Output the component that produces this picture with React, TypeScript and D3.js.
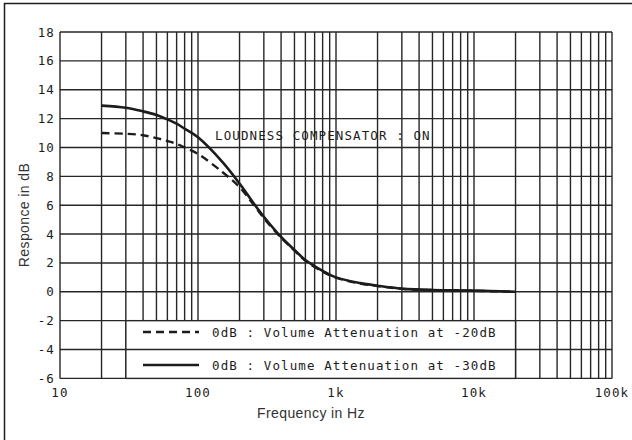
import React from 'react';
import * as d3 from 'd3';

// frequency points (Hz)
const freqs = [20, 30, 40, 50, 60, 70, 80, 100, 150, 200, 250, 300, 400, 500, 600, 800, 1000, 1500, 2000, 3000, 5000, 10000, 20000];
// response at -20dB volume attenuation (dashed)
const atten20 = [11.0, 10.95, 10.85, 10.65, 10.45, 10.25, 10.0, 9.55, 8.3, 7.25, 6.1, 5.1, 3.75, 2.85, 2.15, 1.4, 0.98, 0.57, 0.4, 0.2, 0.12, 0.07, 0.0];
// response at -30dB volume attenuation (solid)
const atten30 = [12.9, 12.75, 12.5, 12.25, 11.95, 11.65, 11.3, 10.7, 9.0, 7.5, 6.2, 5.2, 3.8, 2.9, 2.2, 1.45, 1.0, 0.6, 0.42, 0.22, 0.12, 0.08, 0.0];

const yTicks = [18, 16, 14, 12, 10, 8, 6, 4, 2, 0, -2, -4, -6];
const xTickValues = [10, 100, 1000, 10000, 100000];
const xTickLabels = ['10', '100', '1k', '10k', '100k'];
const legendLabels = ['0dB : Volume Attenuation at -20dB', '0dB : Volume Attenuation at -30dB'];

const W = 632;
const H = 440;
const ink = '#1c1c1c';
const mono = '"DejaVu Sans Mono", monospace';
const sans = '"Liberation Sans", Arial, sans-serif';

const App = () => {
  const x = d3.scaleLog().domain([10, 100000]).range([60, 612]);
  const y = d3.scaleLinear().domain([-6, 18]).range([378.4, 32]);

  // vertical grid: 20..90, 100..900, ... 90k (none between 10 and 20 Hz)
  const vLines: number[] = [];
  [10, 100, 1000, 10000].forEach((dec) => {
    for (let m = 1; m <= 9; m++) {
      const f = dec * m;
      if (f >= 20) vLines.push(f);
    }
  });

  const line = d3
    .line<number>()
    .x((_, i) => x(freqs[i]))
    .y((d) => y(d))
    .curve(d3.curveCatmullRom.alpha(0.5));

  const legX0 = x(30);
  const legX1 = x(20000);

  return (
    <svg width={W} height={H} style={{ position: 'fixed', left: 0, top: 0, background: '#fff' }}>
      <rect x={0} y={0} width={W} height={H} fill="#fff" />
      {/* outer frame */}
      <path d={`M4.5,${H} V3.5 H${W}`} fill="none" stroke={ink} strokeWidth={1.5} />

      {/* grid */}
      <g stroke="#262626" strokeWidth={1.4}>
        {vLines.map((f) => (
          <line key={'v' + f} x1={x(f)} x2={x(f)} y1={y(18)} y2={y(-6)} />
        ))}
        {yTicks.map((t) => (
          <line key={'h' + t} x1={x(10)} x2={x(100000)} y1={y(t)} y2={y(t)} />
        ))}
        <line x1={x(10)} x2={x(10)} y1={y(18)} y2={y(-6)} />
        <line x1={x(100000)} x2={x(100000)} y1={y(18)} y2={y(-6)} />
      </g>

      {/* legend box */}
      <rect x={legX0} y={y(-2)} width={legX1 - legX0} height={y(-6) - y(-2)} fill="#fff" stroke="#262626" strokeWidth={1.4} />
      <line x1={legX0} x2={legX1} y1={y(-4)} y2={y(-4)} stroke="#262626" strokeWidth={1.4} />
      <line x1={143} x2={199} y1={332} y2={332} stroke={ink} strokeWidth={2.4} strokeDasharray="8,5" />
      <line x1={143} x2={199} y1={365} y2={365} stroke={ink} strokeWidth={2.6} />
      {legendLabels.map((l, i) => (
        <text key={l} x={212} y={i === 0 ? 332 : 365} dominantBaseline="central" fontFamily={mono} fontSize={12.5} letterSpacing={1.1} fill={ink}>
          {l}
        </text>
      ))}

      {/* curves */}
      <path d={line(atten20) || ''} fill="none" stroke={ink} strokeWidth={2.4} strokeDasharray="8,5" />
      <path d={line(atten30) || ''} fill="none" stroke={ink} strokeWidth={2.6} />

      <text x={215} y={135} dominantBaseline="central" fontFamily={mono} fontSize={12.5} letterSpacing={1.1} fill={ink}>
        LOUDNESS COMPENSATOR : ON
      </text>

      {/* y tick labels */}
      {yTicks.map((t) => (
        <text key={'yt' + t} x={55} y={y(t)} textAnchor="end" dominantBaseline="central" fontFamily={mono} fontSize={12.5} letterSpacing={1.1} fill={ink}>
          {t}
        </text>
      ))}
      {/* x tick labels */}
      {xTickValues.map((v, i) => (
        <text key={'xt' + v} x={x(v)} y={392} textAnchor="middle" dominantBaseline="central" fontFamily={mono} fontSize={12.5} letterSpacing={1.1} fill={ink}>
          {xTickLabels[i]}
        </text>
      ))}

      <text x={311} y={413} textAnchor="middle" dominantBaseline="central" fontFamily={sans} fontSize={14} letterSpacing={0.4} fill="#333">
        Frequency in Hz
      </text>
      <text transform="translate(24,215) rotate(-90)" textAnchor="middle" dominantBaseline="central" fontFamily={sans} fontSize={14} letterSpacing={0.4} fill="#333">
        Responce in dB
      </text>
    </svg>
  );
};

export default App;
